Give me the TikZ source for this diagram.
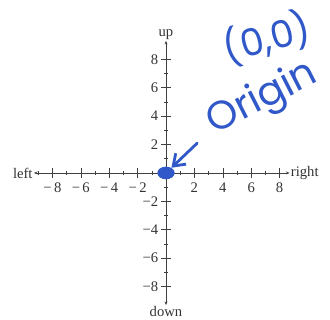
\documentclass[tikz,border=0pt]{standalone}
\usepackage{fontspec}
\setmainfont{Liberation Serif}
\newfontfamily\handfont{Poppins}
\usepackage{xcolor}
\usetikzlibrary{arrows.meta,shapes.geometric}
\definecolor{inkblue}{RGB}{48,88,200}

\begin{document}
\begin{tikzpicture}[
    x=0.426cm, y=0.426cm,
    ax/.style={{Stealth[length=3pt,width=2.5pt]}-{Stealth[length=3pt,width=2.5pt]}, line width=0.5pt, black!75},
    tk/.style={line width=0.5pt, black!75},
    txt/.style={font=\fontsize{12.5}{14}\selectfont, text=black!80, inner sep=1pt},
    hand/.style={text=inkblue, inner sep=0pt},
    ink/.style={inkblue, line width=2.4pt, line cap=round, line join=round},
    dot/.style={ellipse, fill=inkblue, minimum width=0.52cm, minimum height=0.38cm, inner sep=0pt},
]
\useasboundingbox (-11.69,-10.35) rectangle (11.55,12.18);
% axes
\node[txt, anchor=east] (lft) at (-9.3,0) {left};
\node[txt, anchor=west] (rgt) at (8.7,0) {right};
\node[txt, anchor=south] (up) at (0,9.3) {up};
\node[txt, anchor=north] (dn) at (0,-9.3) {down};
\draw[ax] (lft) -- (rgt);
\draw[ax] (dn) -- (up);
% ticks
\foreach \i in {-8,-6,-4,-2,2,4,6,8} {
  \draw[tk] (\i,-0.35) -- (\i,0.35);
  \draw[tk] (-0.35,\i) -- (0.35,\i);
}
\foreach \i in {-9,-7,-5,-3,-1,1,3,5,7} {
  \draw[tk] (\i,-0.15) -- (\i,0.15);
}
\foreach \i in {-7,-5,-3,-1,1,3,5,7} {
  \draw[tk] (-0.15,\i) -- (0.15,\i);
}
\foreach \i in {-8,-6,-4,-2,2,4,6,8} {
  \node[txt, anchor=north] at (\i,-0.6) {\ifnum\i<0 −\,\fi\number\numexpr\ifnum\i<0 -\fi\i\relax};
  \node[txt, anchor=east] at (-0.45,\i) {\ifnum\i<0 −\fi\number\numexpr\ifnum\i<0 -\fi\i\relax};
}
% origin
\node[dot] (o) at (0,0) {};
\node[hand, rotate=15, font=\handfont\fontsize{32}{34}\selectfont] (zz) at (7.1,9.5) {(0,0)};
\node[hand, rotate=27, font=\handfont\fontsize{34}{36}\selectfont] (orig) at (6.8,5.2) {Origin};
\coordinate (arw) at (2.2,2.1);
\draw[ink, -{Straight Barb[length=3.2mm,width=4.5mm]}] (arw) -- (o);
\end{tikzpicture}
\end{document}
